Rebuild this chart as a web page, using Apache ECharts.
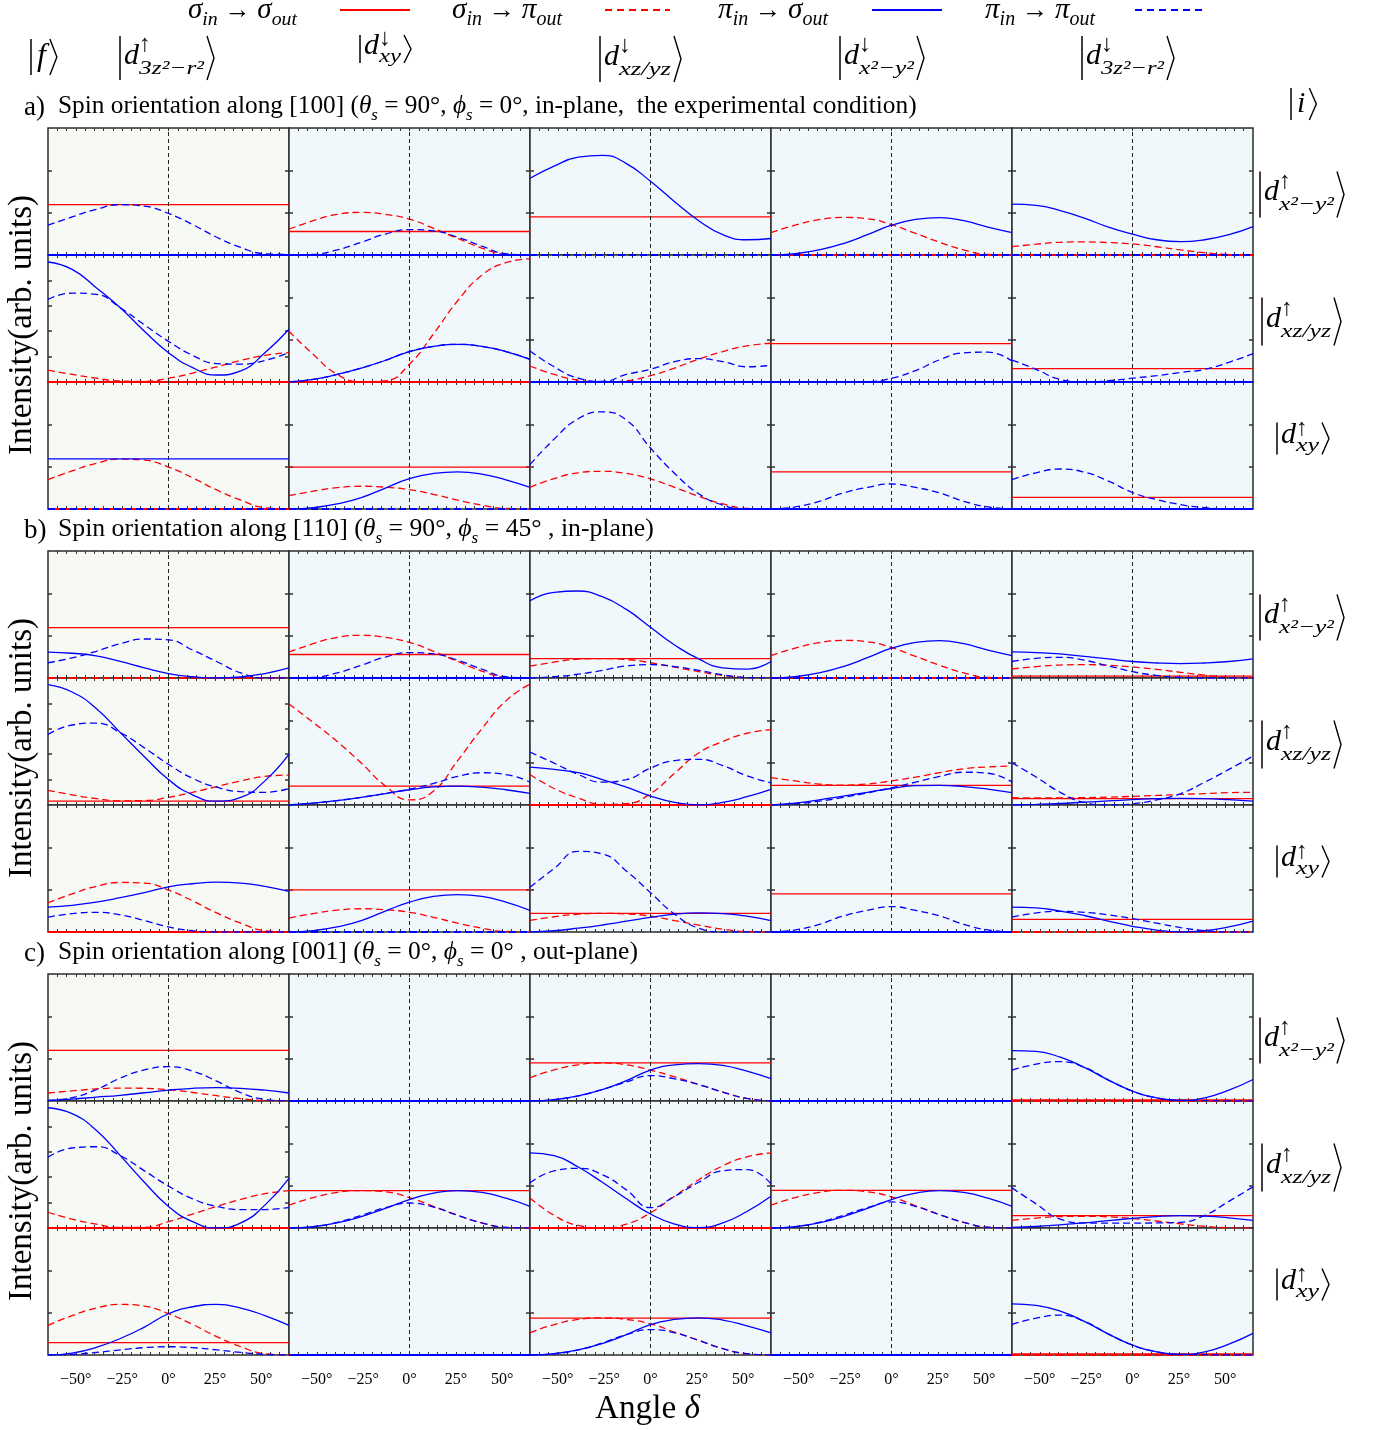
<!DOCTYPE html>
<html><head><meta charset="utf-8">
<script src="https://cdn.jsdelivr.net/npm/echarts@6/dist/echarts.min.js"></script>
<style>html,body{margin:0;padding:0;background:#fff}#c{width:1374px;height:1430px}</style>
</head><body><div id="c"></div>
<script>
// ---------- data ----------
const X = [-65,-52,-39,-26,-13,0,13,26,39,52,65];
const TICK_LABELS = [-50,-25,0,25,50];
const LEGEND_NAMES = [['σ','in','σ','out'],['σ','in','π','out'],['π','in','σ','out'],['π','in','π','out']];
const COL_KETS = [['↑','3z²−r²'],['↓','xy'],['↓','xz/yz'],['↓','x²−y²'],['↓','3z²−r²']];
const ROW_KETS = [['↑','x²−y²'],['↑','xz/yz'],['↑','xy']];
const SECTION_LETTERS = ['a)','b)','c)'];
const SECTION_TITLES = [
  ['[100]','90°','0°',', in-plane,  the experimental condition)'],
  ['[110]','90°','45° ',', in-plane)'],
  ['[001]','0°','0° ',', out-plane)']
];
// number = constant level, array = values at X ; rows: x²−y², xz/yz, xy ; cols: 5 final states
const A_SS = [[0.396,0.185,0.30,0,0],[0,0,0,0.302,0.105],[0,0.329,0,0.292,0.092]];
const A_SP = [
 [0,[0.203,0.27,0.32,0.335,0.32,0.282,0.21,0.13,0.055,0.005,0],0,[0.177,0.235,0.278,0.296,0.285,0.24,0.17,0.10,0.04,0.005,0],[0.066,0.085,0.10,0.103,0.098,0.087,0.065,0.04,0.018,0.004,0]],
 [[0.094,0.06,0.03,0.008,0.005,0.03,0.07,0.12,0.17,0.21,0.231],[0.40,0.218,0.06,0.003,0.01,0.14,0.38,0.64,0.84,0.94,0.97],[0.126,0.06,0.015,0,0.01,0.05,0.11,0.18,0.24,0.285,0.305],0,0],
 [[0.232,0.30,0.36,0.393,0.385,0.33,0.245,0.15,0.07,0.01,0],[0.105,0.14,0.168,0.179,0.172,0.152,0.115,0.07,0.03,0.004,0],[0.171,0.24,0.285,0.297,0.28,0.237,0.17,0.10,0.04,0.005,0],0,0]
];
const A_PS = [
 [0,0,[0.604,0.70,0.77,0.785,0.72,0.58,0.42,0.27,0.16,0.12,0.13],[0,0.01,0.04,0.09,0.16,0.235,0.28,0.295,0.27,0.22,0.177],[0.40,0.39,0.35,0.29,0.22,0.165,0.12,0.105,0.12,0.16,0.224]],
 [[0.945,0.887,0.743,0.585,0.40,0.231,0.113,0.055,0.087,0.23,0.415],[0,0.02,0.06,0.11,0.17,0.24,0.28,0.297,0.28,0.24,0.178],0,0,0],
 [0.395,[0,0.01,0.04,0.09,0.165,0.24,0.28,0.292,0.275,0.23,0.171],0,0,0]
];
const A_PP = [
 [[0.235,0.30,0.36,0.396,0.385,0.327,0.24,0.14,0.06,0.01,0.005],[0,0.005,0.04,0.10,0.165,0.20,0.19,0.14,0.07,0.01,0],0,0,0],
 [[0.651,0.70,0.69,0.585,0.45,0.32,0.21,0.145,0.14,0.17,0.231],[0,0.02,0.06,0.11,0.17,0.24,0.28,0.297,0.28,0.24,0.178],[0.244,0.12,0.03,0.005,0.06,0.10,0.16,0.184,0.16,0.12,0.131],[0,0,0,0,0.003,0.03,0.09,0.175,0.23,0.235,0.165],[0.173,0.10,0.02,0,0.01,0.03,0.05,0.075,0.10,0.155,0.223]],
 [0,0,[0.35,0.55,0.71,0.765,0.70,0.48,0.28,0.12,0.03,0,0],[0,0.016,0.06,0.126,0.17,0.197,0.17,0.126,0.06,0.016,0],[0.232,0.285,0.315,0.29,0.22,0.13,0.074,0.034,0.01,0,0]]
];
const B_SS = [[0.397,0.185,0.153,0,0.015],[0.03,0.149,0,0.155,0.05],[0,0.332,0.147,0.30,0.10]];
const B_SP = [
 [0,[0.204,0.27,0.32,0.336,0.32,0.28,0.21,0.13,0.055,0.005,0],[0.093,0.125,0.148,0.153,0.145,0.12,0.085,0.05,0.02,0.003,0],[0.177,0.235,0.278,0.296,0.285,0.24,0.17,0.10,0.04,0.005,0],[0.071,0.09,0.102,0.105,0.10,0.087,0.068,0.045,0.022,0.006,0]],
 [[0.115,0.08,0.05,0.033,0.035,0.06,0.10,0.145,0.19,0.225,0.236],[0.796,0.65,0.50,0.33,0.15,0.04,0.11,0.35,0.60,0.82,0.953],[0.24,0.13,0.055,0.005,0.01,0.09,0.25,0.41,0.50,0.565,0.594],[0.215,0.19,0.165,0.157,0.165,0.19,0.22,0.255,0.285,0.30,0.306],[0.058,0.055,0.055,0.058,0.062,0.068,0.075,0.083,0.09,0.097,0.10]],
 [[0.23,0.30,0.36,0.39,0.385,0.33,0.245,0.15,0.07,0.01,0],[0.11,0.145,0.172,0.183,0.175,0.155,0.115,0.07,0.03,0.004,0],[0.091,0.12,0.14,0.147,0.142,0.125,0.09,0.055,0.022,0.003,0],0,0]
];
const B_PS = [
 [[0.204,0.195,0.175,0.13,0.08,0.035,0.01,0,0.008,0.035,0.079],0,[0.608,0.675,0.685,0.64,0.54,0.40,0.26,0.15,0.08,0.07,0.13],[0,0.01,0.04,0.09,0.16,0.235,0.28,0.295,0.27,0.22,0.177],[0.205,0.20,0.19,0.17,0.15,0.13,0.118,0.113,0.118,0.13,0.15]],
 [[0.948,0.89,0.76,0.57,0.38,0.20,0.08,0.03,0.06,0.19,0.40],[0,0.015,0.035,0.06,0.09,0.12,0.142,0.149,0.14,0.12,0.092],[0.298,0.28,0.255,0.20,0.14,0.07,0.02,0,0.02,0.065,0.123],[0,0.015,0.04,0.07,0.10,0.13,0.152,0.155,0.145,0.125,0.097],[0,0.005,0.012,0.022,0.032,0.042,0.05,0.052,0.05,0.042,0.03]],
 [[0.196,0.21,0.235,0.27,0.31,0.355,0.38,0.392,0.385,0.36,0.319],[0,0.01,0.04,0.09,0.165,0.235,0.28,0.295,0.28,0.235,0.17],[0,0.01,0.03,0.055,0.085,0.115,0.14,0.15,0.145,0.125,0.09],0,[0.196,0.19,0.165,0.13,0.085,0.045,0.015,0,0.01,0.04,0.086]]
];
const B_PP = [
 [[0.12,0.159,0.21,0.27,0.307,0.30,0.22,0.13,0.04,0,0],[0,0.005,0.04,0.10,0.165,0.20,0.19,0.14,0.07,0.01,0],[0,0.01,0.03,0.06,0.095,0.105,0.09,0.06,0.025,0.004,0],0,[0.13,0.155,0.163,0.14,0.095,0.05,0.02,0.005,0,0,0]],
 [[0.555,0.63,0.645,0.57,0.45,0.32,0.21,0.14,0.105,0.10,0.13],[0,0.015,0.035,0.06,0.09,0.125,0.17,0.225,0.254,0.24,0.18],[0.416,0.33,0.24,0.18,0.20,0.29,0.35,0.36,0.31,0.23,0.175],[0,0.01,0.03,0.06,0.095,0.135,0.18,0.225,0.258,0.25,0.18],[0.332,0.22,0.10,0.02,0,0.01,0.04,0.09,0.18,0.28,0.385]],
 [[0.117,0.145,0.155,0.135,0.09,0.04,0.01,0,0,0,0],0,[0.352,0.50,0.635,0.615,0.48,0.31,0.14,0.03,0,0,0],[0,0.016,0.06,0.126,0.17,0.20,0.17,0.126,0.06,0.016,0],[0.117,0.15,0.163,0.155,0.135,0.105,0.07,0.035,0.01,0,0]]
];
const C_SS = [[0.398,0,0.30,0,0.008],[0,0.295,0,0.297,0.097],[0.097,0,0.29,0,0.008]];
const C_SP = [
 [[0.063,0.08,0.095,0.102,0.10,0.089,0.067,0.042,0.018,0.003,0],0,[0.183,0.245,0.285,0.30,0.285,0.243,0.19,0.13,0.07,0.02,0],0,0],
 [[0.124,0.07,0.03,0.005,0.005,0.05,0.11,0.17,0.225,0.27,0.295],[0.179,0.24,0.28,0.295,0.285,0.24,0.17,0.10,0.04,0.005,0],[0.237,0.10,0.02,0,0.03,0.12,0.25,0.38,0.49,0.56,0.592],[0.179,0.24,0.28,0.297,0.285,0.245,0.175,0.105,0.045,0.006,0],[0.06,0.078,0.09,0.092,0.088,0.075,0.055,0.032,0.013,0.002,0]],
 [[0.233,0.31,0.37,0.398,0.385,0.325,0.24,0.145,0.065,0.01,0],0,[0.175,0.24,0.28,0.293,0.28,0.245,0.18,0.115,0.05,0.01,0],0,0]
];
const C_PS = [
 [[0.005,0.015,0.03,0.045,0.065,0.086,0.10,0.105,0.10,0.085,0.063],0,[0,0.01,0.04,0.09,0.16,0.243,0.285,0.295,0.28,0.235,0.177],0,[0.396,0.39,0.345,0.265,0.165,0.078,0.025,0.005,0.025,0.085,0.169]],
 [[0.947,0.90,0.77,0.57,0.36,0.17,0.05,0,0.04,0.18,0.39],[0,0.01,0.04,0.09,0.155,0.224,0.275,0.295,0.28,0.235,0.171],[0.592,0.57,0.48,0.36,0.23,0.11,0.03,0.003,0.04,0.13,0.25],[0,0.01,0.04,0.09,0.155,0.224,0.275,0.295,0.28,0.235,0.171],[0.005,0.012,0.025,0.04,0.058,0.075,0.09,0.097,0.093,0.08,0.06]],
 [[0,0.015,0.06,0.13,0.22,0.325,0.38,0.398,0.37,0.31,0.233],0,[0,0.01,0.04,0.09,0.16,0.24,0.28,0.293,0.275,0.23,0.175],0,[0.403,0.39,0.345,0.265,0.165,0.078,0.025,0.005,0.025,0.085,0.17]]
];
const C_PP = [
 [[0.005,0.026,0.09,0.18,0.245,0.27,0.235,0.157,0.065,0.013,0],0,[0,0.01,0.04,0.09,0.15,0.20,0.175,0.13,0.07,0.02,0],0,[0.243,0.29,0.31,0.265,0.165,0.078,0.025,0.005,0.003,0,0]],
 [[0.558,0.63,0.64,0.57,0.45,0.33,0.23,0.17,0.145,0.145,0.163],[0,0.01,0.045,0.10,0.16,0.197,0.165,0.10,0.04,0.005,0],[0.355,0.45,0.47,0.42,0.30,0.16,0.25,0.36,0.45,0.46,0.347],[0,0.01,0.045,0.10,0.16,0.205,0.17,0.105,0.045,0.006,0],[0.316,0.19,0.07,0.04,0.038,0.038,0.04,0.045,0.10,0.21,0.324]],
 [[0,0.005,0.02,0.04,0.058,0.065,0.058,0.04,0.02,0.005,0],0,[0,0.01,0.04,0.095,0.16,0.20,0.175,0.115,0.05,0.01,0],0,[0.24,0.29,0.314,0.265,0.165,0.078,0.025,0.005,0.003,0,0]]
];

// ---------- layout / style ----------
const SECTIONS = [
  {SS:A_SS, SP:A_SP, PS:A_PS, PP:A_PP},
  {SS:B_SS, SP:B_SP, PS:B_PS, PP:B_PP},
  {SS:C_SS, SP:C_SP, PS:C_PS, PP:C_PP}
];
const COL_L = 48, COL_W = 241, ROW_H = 127;
const SECTION_TOP = [128, 551, 974];
const RED = '#ff0000', BLUE = '#0000ff';
const DASH = [7,4];
const XTICKS = []; for (let v=-60; v<=60; v+=5) XTICKS.push(v);
const SERIF = '"Liberation Serif", "DejaVu Serif", serif';

const mctx = document.createElement('canvas').getContext('2d');
function F(size, it){ return (it?'italic ':'') + size.toFixed(2) + 'px ' + SERIF; }
function W(t, size, it){ mctx.font = F(size, it); return mctx.measureText(t).width; }
const G = [];
function T(x, base, t, size, it, sx){
  const el = {type:'text', x:x, y: base - 0.34*size, silent:true,
    style:{text:t, font:F(size,it), fill:'#000', align:'left', verticalAlign:'middle'}};
  if (sx) el.scaleX = sx;
  G.push(el);
}
function seqW(p){ return p.reduce((a,q)=>a+W(q[0],q[1],q[2]),0); }
function seq(x, base, p, sc){
  sc = sc || 1;
  for (const q of p){ const s=q[1]*sc; T(x, base+(q[3]||0)*sc, q[0], s, q[2]); x += W(q[0], s, q[2]); }
  return x;
}
function fit(x0, x1, base, p){ return seq(x0, base, p, (x1-x0)/seqW(p)); }
function vbar(x, y0, y1){ G.push({type:'line', silent:true, shape:{x1:x,y1:y0,x2:x,y2:y1}, style:{stroke:'#000', lineWidth:1.5}}); }
function rbr(x, y0, y1){ G.push({type:'polyline', silent:true, shape:{points:[[x,y0],[x+7,(y0+y1)/2],[x,y1]]}, style:{stroke:'#000', lineWidth:1.4, fill:null}}); }
function ket(x, cy, arrow, sub, h, total){
  vbar(x, cy-h/2, cy+h/2);
  const tall = h > 36;
  const dx = x+4, ds = 30, as = 24;
  T(dx, tall ? cy+8 : cy+7, 'd', ds, true);
  const wd = W('d', ds, true);
  T(dx+wd, tall ? cy-5 : cy-2, arrow, as, false);
  const ss = 19, sw = W(sub, ss, true);
  const target = total - (4 + wd + 3 + 8);
  const sx = Math.max(0.9, Math.min(1.45, target/sw));
  T(dx+wd, tall ? cy+17 : cy+14, sub, ss, true, sx);
  const bx = dx + wd + Math.max(W(arrow,as,false)+1, sw*sx) + 3;
  rbr(bx, cy-h/2, cy+h/2);
}
function simpleKet(x, cy, ch, h, size){
  vbar(x, cy-h/2, cy+h/2);
  T(x+6, cy+10, ch, size, true);
  rbr(x+8+W(ch,size,true)+2, cy-h/2, cy+h/2);
}

// legend
const LEG_X = [[188,297],[452,562],[718,828],[985,1095]];
const LEG_LINE = [[340,410,RED,'solid'],[605,670,RED,'dash'],[872,942,BLUE,'solid'],[1135,1205,BLUE,'dash']];
LEGEND_NAMES.forEach((n,i)=>{
  fit(LEG_X[i][0], LEG_X[i][1], 20, [[n[0],22,true],[n[1],15,true,5],[' → ',20,false],[n[2],22,true],[n[3],15,true,5]]);
  const L = LEG_LINE[i];
  G.push({type:'line', silent:true, shape:{x1:L[0],y1:10,x2:L[1],y2:10}, style:{stroke:L[2], lineWidth:2, lineDash: L[3]==='dash'?[7,5]:null}});
});
// header kets
simpleKet(31, 57, 'f', 36, 32);
const COL_KET_POS = [[120,58,44,95],[360,49,28,52],[600,59,46,82],[840,58,44,85],[1082,58,44,93]];
COL_KETS.forEach((k,i)=>{ const p = COL_KET_POS[i]; ket(p[0], p[1], k[0], k[1], p[2], p[3]); });
simpleKet(1291, 104, 'i', 32, 30);
// section titles, row kets, y titles
const TITLE_END = [917, 654, 638];
const ROW_KET_POS = [[1260,3,46,85],[1262,3,48,80],[1277,-7,32,53]];
SECTIONS.forEach((S,s)=>{
  const top = SECTION_TOP[s];
  const base = top - 13;
  T(24, base+2, SECTION_LETTERS[s], 27, false);
  const t = SECTION_TITLES[s];
  fit(58, TITLE_END[s], base, [
    ['Spin orientation along '+t[0]+' (',21,false],['θ',21,true],['s',14,true,5],[' = '+t[1]+', ',21,false],
    ['ϕ',21,true],['s',14,true,5],[' = '+t[2]+t[3],21,false]]);
  ROW_KETS.forEach((k,r)=>{
    const p = ROW_KET_POS[r];
    ket(p[0], top + r*ROW_H + ROW_H/2 + p[1], k[0], k[1], p[2], p[3]);
  });
  const yt = 'Intensity(arb. units)';
  const ys = 30*260/W(yt,30,false);
  G.push({type:'text', x:22, y: top + 197, rotation: Math.PI/2, silent:true,
    style:{text:yt, font:F(ys,false), fill:'#000', align:'center', verticalAlign:'middle'}});
});
fit(595, 700, 1421, [['Angle ',30,false],['δ',30,true]]);

// ---------- charts ----------
const grids=[], xAxes=[], yAxes=[], series=[];
const fmtDeg = v => (v<0 ? '−'+(-v) : String(v)) + '°';
let gi = 0;
SECTIONS.forEach((S,s)=>{
  for (let r=0; r<3; r++) for (let c=0; c<5; c++){
    const left = COL_L + c*COL_W, top = SECTION_TOP[s] + r*ROW_H;
    grids.push({left, top, width:COL_W, height:ROW_H, show:true,
      backgroundColor: c===0 ? '#f7f9f4' : '#f1f8fc', borderColor:'#2b2b2b', borderWidth:1.5});
    const isBottom = (s===2 && r===2);
    const ytk = (c===0 && r===1) ? [0.2,0.4,0.6,0.8] : [1/3, 2/3];
    const tickX = {show:true, inside:true, length:3, customValues:XTICKS, lineStyle:{color:'#333', width:1}};
    const tickY = {show:true, inside:true, length:4, customValues:ytk, lineStyle:{color:'#333', width:1.5}};
    const noLine = {show:false, onZero:false};
    xAxes.push({gridIndex:gi, type:'value', min:-65, max:65, position:'bottom',
      axisLine:noLine, splitLine:{show:false}, axisTick:tickX,
      axisLabel:{show:isBottom, customValues:TICK_LABELS, formatter:fmtDeg, margin:17,
        fontFamily:SERIF, fontSize:16, color:'#000'}});
    xAxes.push({gridIndex:gi, type:'value', min:-65, max:65, position:'top',
      axisLine:noLine, splitLine:{show:false}, axisTick:tickX, axisLabel:{show:false}});
    yAxes.push({gridIndex:gi, type:'value', min:0, max:1, position:'left',
      axisLine:noLine, splitLine:{show:false}, axisTick:tickY, axisLabel:{show:false}});
    yAxes.push({gridIndex:gi, type:'value', min:0, max:1, position:'right',
      axisLine:noLine, splitLine:{show:false}, axisTick:tickY, axisLabel:{show:false}});
    const specs = [[S.SS[r][c],RED,false],[S.SP[r][c],RED,true],[S.PS[r][c],BLUE,false],[S.PP[r][c],BLUE,true]];
    specs.forEach((sp,k)=>{
      const v = sp[0];
      const isConst = (typeof v === 'number');
      const data = isConst ? [[-65,v],[65,v]] : X.map((x,i)=>[x, v[i]]);
      const ser = {type:'line', xAxisIndex:2*gi, yAxisIndex:2*gi, data, showSymbol:false, symbol:'none',
        smooth: isConst ? false : 0.5, silent:true, animation:false, z: 3+k,
        lineStyle:{color:sp[1], width: (isConst && v===0) ? 2 : 1.3, type: sp[2] ? DASH : 'solid'}};
      if (k===0) ser.markLine = {silent:true, symbol:'none', animation:false, label:{show:false},
        lineStyle:{color:'#222', type:[4,3], width:1}, data:[{xAxis:0}]};
      series.push(ser);
    });
    gi++;
  }
});

const chart = echarts.init(document.getElementById('c'), null, {renderer:'canvas'});
chart.setOption({animation:false, grid:grids, xAxis:xAxes, yAxis:yAxes, series:series, graphic:{elements:G}});
</script>
</body></html>
